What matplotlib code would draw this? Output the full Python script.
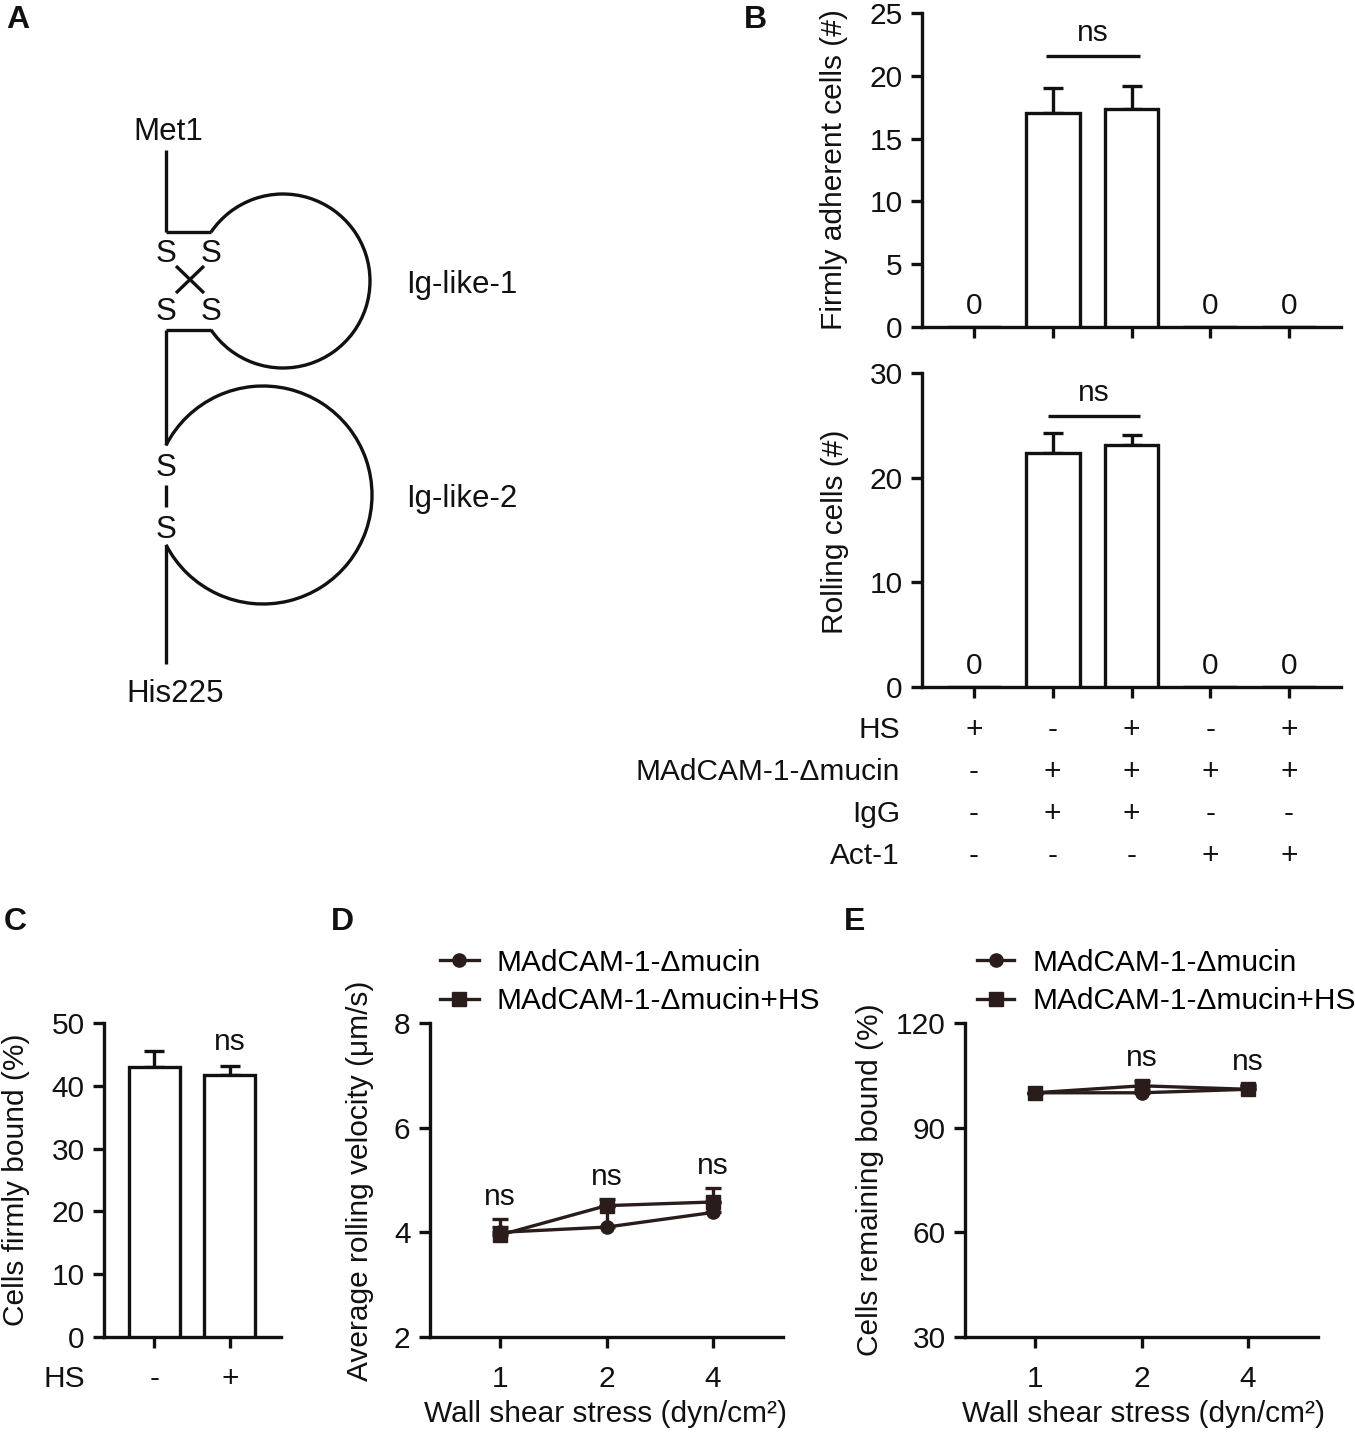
import matplotlib
matplotlib.use('Agg')
import matplotlib.pyplot as plt
import matplotlib.transforms as mtransforms
from matplotlib.patches import Arc
import numpy as np

plt.rcParams['font.family'] = ['Liberation Sans', 'DejaVu Sans']

# ---------------- data ----------------
b_positions = [0, 1, 2, 3, 4]
b_firm = [0, 17.0, 17.35, 0, 0]
b_firm_err = [0, 2.0, 1.85, 0, 0]
b_roll = [0, 22.4, 23.15, 0, 0]
b_roll_err = [0, 1.85, 0.9, 0, 0]
b_row_labels = ['HS', 'MAdCAM-1-Δmucin', 'IgG', 'Act-1']
b_hs = ['+', '-', '+', '-', '+']
b_madcam = ['-', '+', '+', '+', '+']
b_igg = ['-', '+', '+', '-', '-']
b_act1 = ['-', '-', '-', '+', '+']
b_sig_firm = 21.6
b_sig_roll = 25.85

c_hs = ['-', '+']
c_vals = [43.0, 41.7]
c_err = [2.6, 1.4]

shear_labels = ['1', '2', '4']
d_mucin = [4.0, 4.10, 4.38]
d_mucin_err = [0.25, 0.40, 0.20]
d_mucin_hs = [3.95, 4.51, 4.58]
d_mucin_hs_err = [0.15, 0.13, 0.26]
d_ns_pos = [0, 1, 2]

e_mucin = [100, 100, 101]
e_mucin_err = [0, 0.8, 1.0]
e_mucin_hs = [100, 102, 101]
e_mucin_hs_err = [0, 1.5, 1.2]
e_ns_pos = [1, 2]

legend_labels = ['MAdCAM-1-Δmucin', 'MAdCAM-1-Δmucin+HS']

# ---------------- figure ----------------
W, H = 1355, 1435
fig = plt.figure(figsize=(W / 100, H / 100), dpi=100)
K = '#111111'
MK = '#2a1c1a'
LW = 2.4
FS = 21.5
FL = 21.5


def px_axes(l, t, r, b):
    return fig.add_axes([l / W, 1 - b / H, (r - l) / W, (b - t) / H])


def style(ax):
    for s in ['top', 'right']:
        ax.spines[s].set_visible(False)
    for s in ['left', 'bottom']:
        ax.spines[s].set_linewidth(LW)
        ax.spines[s].set_color(K)
    ax.tick_params(axis='both', direction='out', length=8, width=LW,
                   labelsize=FS, colors=K, pad=6)
    ax.tick_params(axis='x', pad=12)
    ax.set_facecolor('none')


def ftext(x, y, s, **kw):
    kw.setdefault('fontsize', FS)
    kw.setdefault('color', K)
    fig.text(x / W, 1 - y / H, s, **kw)


def bars(ax, pos, vals, errs, width):
    pos = np.asarray(pos, float)
    vals = np.asarray(vals, float)
    errs = np.asarray(errs, float)
    ax.bar(pos, vals, width=width, color='white', edgecolor=K,
           linewidth=LW, zorder=3)
    m = errs > 0
    ax.errorbar(pos[m], vals[m], yerr=[np.zeros(m.sum()), errs[m]],
                fmt='none', ecolor=K, elinewidth=LW, capsize=7.5,
                capthick=LW, zorder=2)
    for p, v in zip(pos, vals):
        if v == 0:
            ax.text(p, ax.get_ylim()[1] * 0.068, '0', ha='center',
                    va='center', fontsize=FS, color=K)


# ---------------- panel A (schematic) ----------------
axA = fig.add_axes([0, 0, 1, 1], zorder=-5)
axA.set_xlim(0, W)
axA.set_ylim(H, 0)
axA.axis('off')

stem_x = 166
loop1_c, loop1_r = (283, 281), 87
loop2_c, loop2_r = (263, 495), 109
join1_x = 211


def loop_arc(c, r, jx, jy_top, jy_bot):
    t1 = np.degrees(np.arctan2(jy_top - c[1], jx - c[0]))
    t2 = np.degrees(np.arctan2(jy_bot - c[1], jx - c[0]))
    axA.add_patch(Arc(c, 2 * r, 2 * r, theta1=t1, theta2=t2,
                      lw=LW, color=K))


dy1 = np.sqrt(loop1_r ** 2 - (join1_x - loop1_c[0]) ** 2)
j1_top, j1_bot = loop1_c[1] - dy1, loop1_c[1] + dy1
dy2 = np.sqrt(loop2_r ** 2 - (stem_x - loop2_c[0]) ** 2)
j2_top, j2_bot = loop2_c[1] - dy2, loop2_c[1] + dy2

loop_arc(loop1_c, loop1_r, join1_x, j1_top, j1_bot)
loop_arc(loop2_c, loop2_r, stem_x, j2_top, j2_bot)

segs = [((stem_x, 150), (stem_x, j1_top)),
        ((stem_x, j1_top), (join1_x, j1_top)),
        ((stem_x, j1_bot), (join1_x, j1_bot)),
        ((stem_x, j1_bot), (stem_x, j2_top)),
        ((stem_x, j2_bot), (stem_x, 664)),
        ((stem_x, 485), (stem_x, 507)),
        ((176, 266), (204, 293)),
        ((204, 266), (176, 293))]
for (x0, y0), (x1, y1) in segs:
    axA.plot([x0, x1], [y0, y1], color=K, lw=LW, solid_capstyle='butt')

FA = 22.5
for (sx, sy) in [(stem_x, 250), (join1_x, 250), (stem_x, 309),
                 (join1_x, 309), (stem_x, 464), (stem_x, 527)]:
    axA.text(sx, sy, 'S', ha='center', va='center_baseline', fontsize=FA, color=K)
axA.text(stem_x + 2, 128, 'Met1', ha='center', va='center_baseline', fontsize=FA, color=K)
axA.text(175, 690, 'His225', ha='center', va='center_baseline', fontsize=FA, color=K)
axA.text(406, 281, 'Ig-like-1', ha='left', va='center_baseline', fontsize=FA, color=K)
axA.text(406, 496, 'Ig-like-2', ha='left', va='center_baseline', fontsize=FA, color=K)

# ---------------- panel B ----------------
axB1 = px_axes(922, 13, 1341, 327)
style(axB1)
axB1.set_xlim(-0.66, 4.66)
axB1.set_ylim(0, 25)
axB1.set_yticks([0, 5, 10, 15, 20, 25])
axB1.set_xticks(b_positions)
axB1.set_xticklabels([])
bars(axB1, b_positions, b_firm, b_firm_err, 0.68)
axB1.plot([b_positions[1] - 0.08, b_positions[2] + 0.11], [b_sig_firm] * 2,
          color=K, lw=LW, solid_capstyle='butt')
axB1.text((b_positions[1] + b_positions[2]) / 2 + 0.01, b_sig_firm + 1.8, 'ns',
          ha='center', va='center', fontsize=FS, color=K)

axB2 = px_axes(922, 373, 1341, 687)
style(axB2)
axB2.set_xlim(-0.66, 4.66)
axB2.set_ylim(0, 30)
axB2.set_yticks([0, 10, 20, 30])
axB2.set_xticks(b_positions)
axB2.set_xticklabels([])
bars(axB2, b_positions, b_roll, b_roll_err, 0.68)
axB2.plot([b_positions[1] - 0.06, b_positions[2] + 0.11], [b_sig_roll] * 2,
          color=K, lw=LW, solid_capstyle='butt')
axB2.text((b_positions[1] + b_positions[2]) / 2 + 0.02, b_sig_roll + 2.2, 'ns',
          ha='center', va='center', fontsize=FS, color=K)

trB = mtransforms.blended_transform_factory(axB2.transData, fig.transFigure)
row_y = [730, 772, 814, 856]
for lab, syms, y in zip(b_row_labels, [b_hs, b_madcam, b_igg, b_act1], row_y):
    ftext(900, y, lab, ha='right', va='center')
    for p, s in zip(b_positions, syms):
        fig.text(p, 1 - y / H, s, transform=trB, ha='center', va='center',
                 fontsize=FS, color=K)

ftext(834, 170, 'Firmly adherent cells (#)', rotation=90, ha='center',
      va='center', fontsize=FL)
ftext(835, 532, 'Rolling cells (#)', rotation=90, ha='center',
      va='center', fontsize=FL)

# ---------------- panel C ----------------
axC = px_axes(104, 1023, 281, 1337)
style(axC)
c_pos = np.arange(len(c_vals))
axC.set_xlim(-0.67, 1.68)
axC.set_ylim(0, 50)
axC.set_yticks([0, 10, 20, 30, 40, 50])
axC.set_xticks(c_pos)
axC.set_xticklabels([])
bars(axC, c_pos, c_vals, c_err, 0.68)
axC.text(c_pos[1], c_vals[1] + c_err[1] + 3.9, 'ns', ha='center', va='center',
         fontsize=FS, color=K)
trC = mtransforms.blended_transform_factory(axC.transData, fig.transFigure)
ftext(85, 1379, 'HS', ha='right', va='center')
for p, s in zip(c_pos, c_hs):
    fig.text(p, 1 - 1379 / H, s, transform=trC, ha='center', va='center',
             fontsize=FS, color=K)
ftext(16, 1180, 'Cells firmly bound (%)', rotation=90, ha='center',
      va='center', fontsize=FL)


# ---------------- panels D & E ----------------
def line_panel(ax, y1, e1, y2, e2):
    x = np.arange(len(shear_labels))
    ax.errorbar(x, y1, yerr=[np.zeros(len(e1)), e1], fmt='none', ecolor=MK,
                elinewidth=LW, capsize=5.5, capthick=LW, zorder=2)
    ax.errorbar(x, y2, yerr=[np.zeros(len(e2)), e2], fmt='none', ecolor=MK,
                elinewidth=LW, capsize=5.5, capthick=LW, zorder=2)
    h1, = ax.plot(x, y1, marker='o', ms=9.5, color=MK, lw=LW, zorder=3,
                  clip_on=False)
    h2, = ax.plot(x, y2, marker='s', ms=10, color=MK, lw=LW, zorder=4,
                  clip_on=False)
    ax.set_xticks(x)
    ax.set_xticklabels(shear_labels)
    ax.set_xlim(-0.66, 2.66)
    return h1, h2


axD = px_axes(430, 1023, 783, 1337)
style(axD)
hD = line_panel(axD, d_mucin, d_mucin_err, d_mucin_hs, d_mucin_hs_err)
axD.set_ylim(2, 8)
axD.set_yticks([2, 4, 6, 8])
for p in d_ns_pos:
    top = max(d_mucin[p] + d_mucin_err[p], d_mucin_hs[p] + d_mucin_hs_err[p])
    axD.text(p, top + 0.42, 'ns', ha='center', va='center', fontsize=FS, color=K)
axD.legend(hD, legend_labels, loc='center left',
           bbox_to_anchor=(440 / W, 1 - 982 / H), bbox_transform=fig.transFigure,
           frameon=False, fontsize=FS, handlelength=1.3, handletextpad=0.6,
           labelspacing=0.35, borderpad=0, borderaxespad=0)
ftext(360, 1181, 'Average rolling velocity (μm/s)', rotation=90, ha='center',
      va='center', fontsize=FL)
ftext(606, 1414, 'Wall shear stress (dyn/cm²)', ha='center', va='center',
      fontsize=FL)

axE = px_axes(965, 1023, 1318, 1337)
style(axE)
hE = line_panel(axE, e_mucin, e_mucin_err, e_mucin_hs, e_mucin_hs_err)
axE.set_ylim(30, 120)
axE.set_yticks([30, 60, 90, 120])
for p in e_ns_pos:
    top = max(e_mucin[p] + e_mucin_err[p], e_mucin_hs[p] + e_mucin_hs_err[p])
    axE.text(p, top + 6.5, 'ns', ha='center', va='center', fontsize=FS, color=K)
axE.legend(hE, legend_labels, loc='center left',
           bbox_to_anchor=(977 / W, 1 - 982 / H), bbox_transform=fig.transFigure,
           frameon=False, fontsize=FS, handlelength=1.25, handletextpad=0.6,
           labelspacing=0.35, borderpad=0, borderaxespad=0)
ftext(870, 1180, 'Cells remaining bound (%)', rotation=90, ha='center',
      va='center', fontsize=FL)
ftext(1144, 1414, 'Wall shear stress (dyn/cm²)', ha='center', va='center',
      fontsize=FL)

# ---------------- panel letters ----------------
for lab, (x, y) in {'A': (18, 20), 'B': (755, 20), 'C': (15, 922),
                    'D': (342, 922), 'E': (855, 922)}.items():
    ftext(x, y, lab, ha='center', va='center', fontsize=23, fontweight='bold')

fig.savefig('out.png', dpi=100, facecolor='white')
